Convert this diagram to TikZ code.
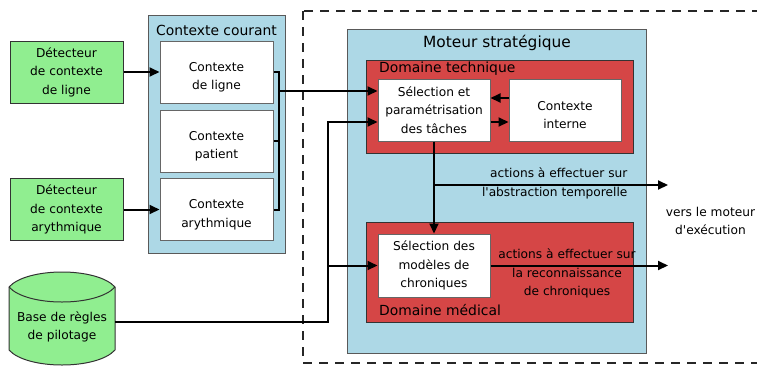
\documentclass[tikz,border=0pt]{standalone}
\usepackage{fontspec}
\setmainfont{DejaVu Sans}
\usetikzlibrary{arrows.meta,calc}

\definecolor{vert}{HTML}{90EE90}
\definecolor{bleu}{HTML}{ADD8E6}
\definecolor{rouge}{HTML}{D54646}

\begin{document}
\begin{tikzpicture}[x=1pt,y=-1pt,
	txt/.style={align=center,font=\fontsize{12.2}{18.5}\selectfont},
	bx/.style={txt,draw=gray!80!black,fill=white,line width=1pt,minimum width=113,minimum height=62,inner sep=0},
	lo/.style={label={[txt,yshift=-5pt]center:{#1}}},
	det/.style={bx,draw=black!80,fill=vert},
	grp/.style={draw=gray!70!black,fill=bleu,line width=1pt,inner sep=0},
	dom/.style={draw=black!80,fill=rouge,line width=1pt,inner sep=0},
	ttl/.style={font=\fontsize{13.9}{16}\selectfont,inner sep=0},
	fl/.style={line width=2pt,-{Triangle[length=10pt,width=9pt]}},
	ln/.style={line width=2pt}]
	\useasboundingbox (0,0) rectangle (757,365);
	\draw[dashed,line width=1.5pt,dash pattern=on 9pt off 7pt,black!85] (303,11) rectangle (780,363);

	% contexte courant
	\node[det] (d1) at (66.5,72) {Détecteur\\de contexte\\de ligne};
	\node[det] (d2) at (66.5,209.5) {Détecteur\\de contexte\\arythmique};
	\node[grp,minimum width=137,minimum height=238] (cc) at (216.5,134) {};
	\node[ttl,anchor=base] (tcc) at (216.5,35) {Contexte courant};
	\node[bx,lo={Contexte\\de ligne}] (cl) at (216.5,72) {};
	\node[bx,lo={Contexte\\patient}] (cp) at (216.5,141) {};
	\node[bx,lo={Contexte\\arythmique}] (ca) at (216.5,209.5) {};

	\filldraw[draw=black!80,fill=vert,line width=1pt] (9,287) .. controls (27,267) and (97,267) .. (115,287)
		-- (115,350) .. controls (97,370) and (27,370) .. (9,350) -- cycle;
	\draw[black!80,line width=1pt] (9,287) .. controls (27,307) and (97,307) .. (115,287);
	\node[txt,minimum width=106,inner sep=0] (base) at (62,327) {Base de règles\\de pilotage};

	% moteur strategique
	\node[grp,minimum width=299,minimum height=324] (ms) at (496.5,191) {};
	\node[ttl,anchor=base,font=\fontsize{15.4}{18}\selectfont] (tms) at (497,47) {Moteur stratégique};
	\node[dom,minimum width=267,minimum height=93] (dt) at (499.5,106.5) {};
	\node[ttl,anchor=base west] (tdt) at (379,72) {Domaine technique};
	\node[bx,minimum width=112] (sp) at (434,110) {Sélection et\\paramétrisation\\des tâches};
	\node[bx,minimum width=112,lo={Contexte\\interne}] (ci) at (565,110) {};
	\node[dom,minimum width=267,minimum height=100] (dm) at (499.5,272) {};
	\node[ttl,anchor=base west] (tdm) at (379,315) {Domaine médical};
	\node[bx,minimum width=112,minimum height=63] (sm) at (434,265.5) {Sélection des\\modèles de\\chroniques};

	\draw[fl] (d1) -- (cl);
	\draw[fl] (d2) -- (ca);
	\draw[ln] (cl.east) -- ++(5,0) |- (ca.east);
	\draw[ln] (cp.east) -- ++(5,0);
	\coordinate (br) at ($(cl.east)+(5,19)$);
	\draw[fl] (br) -- (br -| sp.west);
	\draw[fl] ([yshift=12pt]ci.west) -- ([yshift=12pt]sp.east);
	\draw[fl] ([yshift=-12pt]sp.east) -- ([yshift=-12pt]ci.west);
	\coordinate (jn) at (328,122);
	\draw[fl] ([yshift=5pt]base.east) -| (jn) -- (jn -| sp.west);
	\draw[fl] (jn |- sm.west) -- (sm.west);
	\draw[fl] (sp.south) -- (sm.north);
	\coordinate (o1) at (668,185);
	\coordinate (o2) at (668,266);
	\draw[fl] (sp.south |- o1) -- (o1);
	\draw[fl] (sm.east) -- (sm.east -| o2);

	\node[txt,anchor=east,align=right] (a1) at (631,183.5) {actions à effectuer sur\\l\textquotesingle abstraction temporelle};
	\node[txt] (a2) at (567,273.5) {actions à effectuer sur\\la reconnaissance\\de chroniques};
	\node[txt] (vm) at (710.5,221) {vers le moteur\\d\textquotesingle exécution};
\end{tikzpicture}
\end{document}
